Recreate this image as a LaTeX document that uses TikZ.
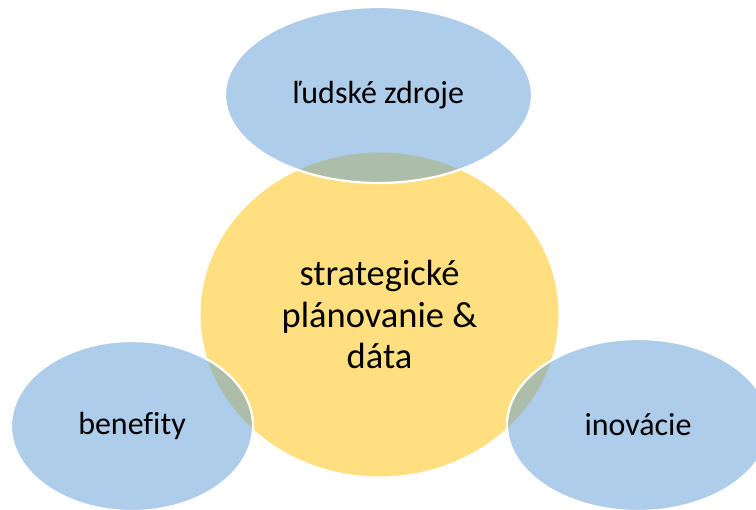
\documentclass[tikz,border=0pt]{standalone}
\usepackage{fontspec}
\setmainfont[Ligatures=NoCommon]{Carlito}
\usetikzlibrary{shapes.geometric}
\definecolor{hubyellow}{HTML}{FFC000}
\definecolor{satblue}{HTML}{5B9BD5}
\tikzset{
  hub/.style={ellipse, inner sep=0pt, fill=hubyellow, fill opacity=0.5, text opacity=1,
    draw=white, line width=2pt, align=center, font=\fontsize{36.5}{41.5}\selectfont},
  sat/.style={ellipse, inner sep=0pt, fill=satblue, fill opacity=0.5, text opacity=1,
    draw=white, line width=2.2pt, align=center, font=\fontsize{32}{38}\selectfont}
}
\begin{document}
\begin{tikzpicture}[x=1pt,y=-1pt]
\useasboundingbox (0,0) rectangle (756,510);
\clip (0,0) rectangle (756,510);
\node[hub, minimum width=360pt, minimum height=326pt] (hubnode) at (379.5,314.5)
  {strategické\\plánovanie \&\\dáta};
\node[sat, minimum width=307pt, minimum height=176pt] (topnode) at (378.5,95) {ľudské zdroje};
\node[sat, minimum width=242pt, minimum height=170pt] (leftnode) at (132,426) {benefity};
\node[sat, minimum width=262pt, minimum height=172pt] (rightnode) at (638,425) {inovácie};
\end{tikzpicture}
\end{document}
